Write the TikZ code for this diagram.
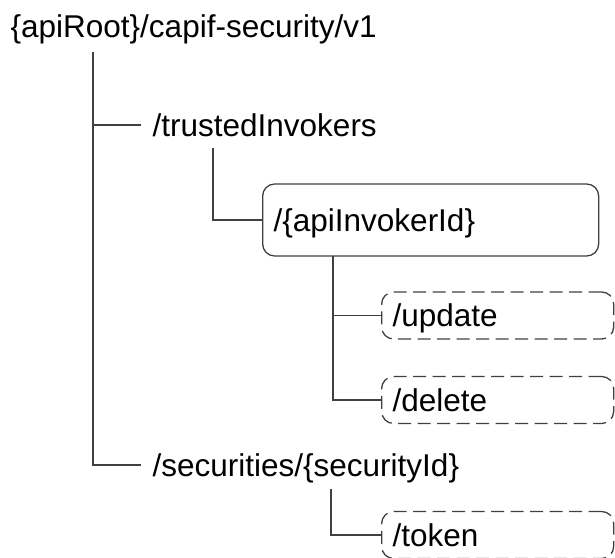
\documentclass[tikz,border=0pt]{standalone}
\usepackage{fontspec}
\setmainfont{Liberation Sans}

\begin{document}
\begin{tikzpicture}[
  x=1pt,y=-1pt,
  line width=1.3pt,
  every node/.style={font=\fontsize{31.5}{38}\selectfont,text height=23.5pt,text depth=1pt,inner ysep=0pt},
  item/.style={anchor=west,inner xsep=11pt},
  res/.style={item,draw=black!75,rounded corners=12pt,minimum height=72pt,text width=314pt,align=left},
  opt/.style={res,dash pattern=on 13pt off 6.5pt,minimum height=47pt,text width=210pt},
  link/.style={draw=black!75}
]

\useasboundingbox (0,0) rectangle (615,557);

\node[item,inner xsep=0pt] (root) at (10,26) {\{apiRoot\}/capif-security/v1};
\node[item] (trusted) at (141,125) {/trustedInvokers};
\node[res] (invoker) at (262,220) {/\{apiInvokerId\}};
\node[item] (secs) at (141,465) {/securities/\{securityId\}};

\foreach \name/\y in {update/315.5,delete/400,token/535}
  \node[opt] (\name) at (381,\y) {/\name};

\coordinate (rootstem) at (93,52);
\coordinate (trustedstem) at (213,148);
\coordinate (invokerstem) at (333,256);
\coordinate (secsstem) at (331,489);

\draw[link] (rootstem) |- (secs.west);
\draw[link] (rootstem |- trusted.west) -- (trusted.west);
\draw[link] (trustedstem) |- (invoker.west);
\draw[link] (invokerstem) |- (delete.west);
\draw[link] (invokerstem |- update.west) -- (update.west);
\draw[link] (secsstem) |- (token.west);

\end{tikzpicture}
\end{document}
